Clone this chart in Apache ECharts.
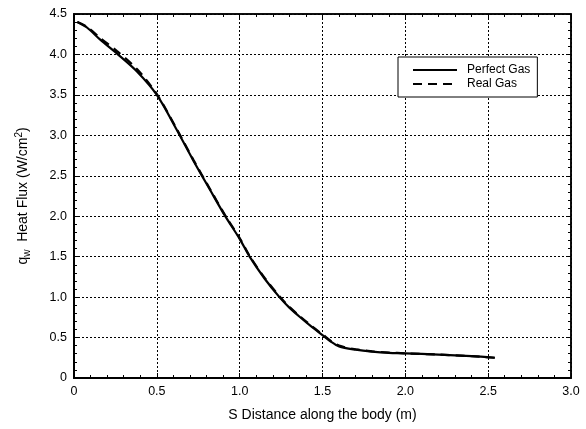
<!DOCTYPE html>
<html><head><meta charset="utf-8">
<script src="https://cdn.jsdelivr.net/npm/echarts@6/dist/echarts.min.js"></script>
<style>html,body{margin:0;padding:0;background:#fff}#c{width:586px;height:429px}</style>
</head><body><div id="c"></div>
<script>
var perfectX = [0.02, 0.08, 0.16, 0.26, 0.38, 0.50, 0.62, 0.72, 0.82, 0.91, 1.00, 1.06, 1.15, 1.24, 1.30, 1.36, 1.43, 1.50, 1.55, 1.60, 1.70, 1.80, 1.90, 2.00, 2.20, 2.40, 2.54];
var perfectY = [4.40, 4.33, 4.18, 4.01, 3.79, 3.50, 3.07, 2.69, 2.33, 2.01, 1.72, 1.50, 1.23, 1.00, 0.87, 0.76, 0.64, 0.53, 0.45, 0.39, 0.35, 0.325, 0.31, 0.305, 0.29, 0.27, 0.25];
var realX = [0.02, 0.08, 0.16, 0.26, 0.38, 0.50, 0.62, 0.72, 0.82, 0.91, 1.00, 1.06, 1.15, 1.24, 1.30, 1.36, 1.43, 1.50, 1.55, 1.60, 1.70, 1.80, 1.90, 2.00, 2.20, 2.40, 2.54];
var realY = [4.40, 4.34, 4.20, 4.04, 3.82, 3.51, 3.08, 2.70, 2.34, 2.02, 1.73, 1.51, 1.24, 1.01, 0.88, 0.77, 0.65, 0.54, 0.46, 0.40, 0.355, 0.33, 0.315, 0.305, 0.29, 0.27, 0.25];
var seriesNames = ['Perfect Gas', 'Real Gas'];
var xTitle = 'S Distance along the body (m)';

function pairs(xs, ys){ return xs.map(function(x,i){ return [x, ys[i]]; }); }
function fmt(v){ return v === 0 ? '0' : v.toFixed(1); }

var chart = echarts.init(document.getElementById('c'), null, {renderer:'canvas'});
var font = 'Liberation Sans, Arial, sans-serif';
function axisBase(extra){
  var o = {
    min: 0, interval: 0.5,
    axisLine: {show:true, onZero:false, lineStyle:{color:'#000', width:2}},
    axisTick: {show:true, inside:true, length:5, lineStyle:{color:'#000'}},
    minorTick: {show:true, splitNumber:5, length:3, lineStyle:{color:'#000'}}
  };
  for (var k in extra) o[k] = extra[k];
  return o;
}
chart.setOption({
  animation: false,
  backgroundColor: '#fff',
  grid: {left:74, right:15, top:14, bottom:51, show:true, borderColor:'#000', borderWidth:1.5},
  legend: {
    data: seriesNames, orient:'vertical', left:398, top:57,
    itemWidth:44, itemHeight:12, itemGap:2,
    backgroundColor:'#fff', borderColor:'#000', borderWidth:1,
    padding:[7,7,7,14],
    itemStyle:{opacity:0},
    textStyle:{fontFamily:font, fontSize:12, color:'#000', padding:[0,0,0,5]}
  },
  xAxis: [
    axisBase({
      type:'value', max:3, position:'bottom',
      name: xTitle, nameLocation:'middle', nameGap:30,
      nameTextStyle:{fontFamily:font, fontSize:14, color:'#000'},
      axisLabel:{formatter:fmt, fontFamily:font, fontSize:12.5, color:'#000', margin:7},
      splitLine:{show:true, lineStyle:{color:'#000', type:[2,2], width:1}}
    }),
    axisBase({
      type:'value', max:3, position:'top',
      axisLabel:{show:false}, splitLine:{show:false},
      axisLine:{show:true, onZero:false, lineStyle:{color:'#000', width:1.5}}
    })
  ],
  yAxis: [
    axisBase({
      type:'value', max:4.5, position:'left',
      name: '{t|q}{s|w}{t|  Heat Flux (W/cm}{p|2}{t|)}',
      nameLocation:'middle', nameGap:42, nameRotate:90,
      nameTextStyle:{rich:{
        t:{fontFamily:font, fontSize:14, color:'#000'},
        s:{fontFamily:font, fontSize:10, color:'#000', verticalAlign:'top', padding:[8,0,0,0]},
        p:{fontFamily:font, fontSize:10, color:'#000', verticalAlign:'bottom', padding:[0,0,8,0]}
      }},
      axisLabel:{formatter:fmt, fontFamily:font, fontSize:12.5, color:'#000', margin:7},
      splitLine:{show:true, lineStyle:{color:'#000', type:[2,2], width:1}}
    }),
    axisBase({
      type:'value', max:4.5, position:'right',
      axisLabel:{show:false}, splitLine:{show:false},
      axisLine:{show:true, onZero:false, lineStyle:{color:'#000', width:1.5}}
    })
  ],
  series: [
    {name:seriesNames[0], type:'line', data:pairs(perfectX, perfectY), smooth:0.3, symbol:'none',
     lineStyle:{color:'#000', width:2.2, type:'solid'}, itemStyle:{color:'#000'}},
    {name:seriesNames[1], type:'line', data:pairs(realX, realY), smooth:0.3, symbol:'none',
     lineStyle:{color:'#000', width:2.2, type:[9,6]}, itemStyle:{color:'#000'}}
  ]
});
</script></body></html>
